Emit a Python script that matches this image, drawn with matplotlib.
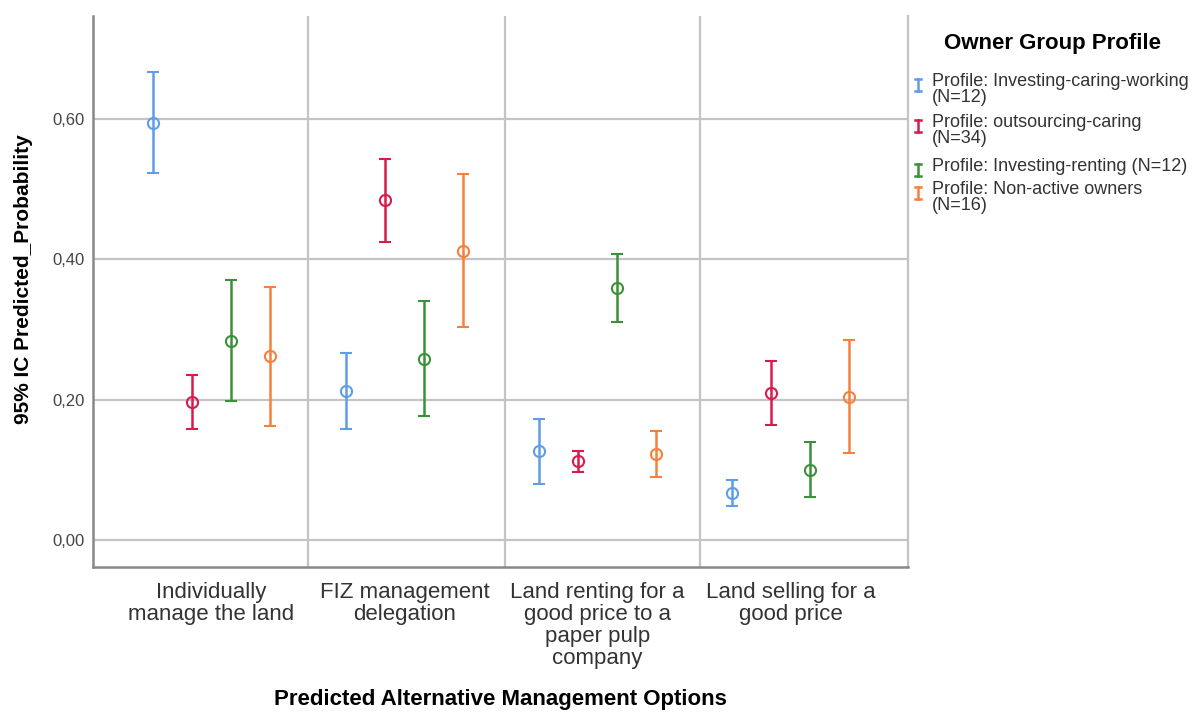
import numpy as np
import matplotlib
matplotlib.use("Agg")
import matplotlib.pyplot as plt
from matplotlib.lines import Line2D

plt.rcParams['font.family'] = ['Liberation Sans', 'DejaVu Sans']

# ==============================
# DATA
# ==============================
categories = ["Individually\nmanage the land",
              "FIZ management\ndelegation",
              "Land renting for a\ngood price to a\npaper pulp\ncompany",
              "Land selling for a\ngood price"]

profiles = ["Profile: Investing-caring-working\n(N=12)",
            "Profile: outsourcing-caring\n(N=34)",
            "Profile: Investing-renting (N=12)",
            "Profile: Non-active owners\n(N=16)"]

colors = ["#5f9de9", "#d81b4a", "#3a913a", "#f7813c"]

# mean, lower CI, upper CI per profile (one value per category)
mean_icw = [0.595, 0.212, 0.127, 0.067]
low_icw  = [0.523, 0.158, 0.080, 0.049]
high_icw = [0.667, 0.267, 0.173, 0.085]

mean_oc = [0.196, 0.484, 0.112, 0.209]
low_oc  = [0.158, 0.424, 0.097, 0.164]
high_oc = [0.235, 0.543, 0.127, 0.255]

mean_ir = [0.284, 0.258, 0.359, 0.100]
low_ir  = [0.198, 0.177, 0.310, 0.061]
high_ir = [0.371, 0.341, 0.407, 0.140]

mean_na = [0.262, 0.412, 0.123, 0.204]
low_na  = [0.163, 0.303, 0.090, 0.124]
high_na = [0.361, 0.522, 0.155, 0.285]

means = [mean_icw, mean_oc, mean_ir, mean_na]
lows = [low_icw, low_oc, low_ir, low_na]
highs = [high_icw, high_oc, high_ir, high_na]

yticks = [0.0, 0.2, 0.4, 0.6]
ytick_labels = ["0,00", "0,20", "0,40", "0,60"]

# ==============================
# FIGURE
# ==============================
W, H = 1199, 718
fig = plt.figure(figsize=(W / 100, H / 100), dpi=100)
ax = fig.add_axes([93 / W, 1 - 567 / H, 815 / W, 551 / H])

grid_color = "#c4c4c4"
for yv in yticks:
    ax.axhline(yv, color=grid_color, lw=1.6, zorder=0)
# separators between the option groups
for xv in [0.5, 1.52, 2.53]:
    ax.axvline(xv, color=grid_color, lw=1.6, zorder=0)

x = np.arange(len(categories))
offset = 0.202
for k in range(4):
    m = np.array(means[k])
    lo = np.array(lows[k])
    hi = np.array(highs[k])
    ax.errorbar(x + (k - 1.5) * offset, m, yerr=[m - lo, hi - m],
                fmt='o', mfc='none', mec=colors[k], color=colors[k],
                ms=8, mew=1.5, elinewidth=1.8, capsize=4, capthick=1.8,
                zorder=3)

ax.set_xlim(-0.614, 3.609)
ax.set_ylim(-0.0385, 0.7468)

ax.set_yticks(yticks)
ax.set_yticklabels(ytick_labels)
ax.set_xticks(x)
ax.set_xticklabels(categories, fontsize=16, color="#333333", linespacing=1.05)
ax.tick_params(axis='y', length=0, pad=6, labelsize=12, labelcolor="#444444")
ax.tick_params(axis='x', length=0, pad=11)

ax.spines['top'].set_visible(False)
ax.spines['right'].set_color(grid_color)
ax.spines['right'].set_linewidth(1.6)
for s in ['left', 'bottom']:
    ax.spines[s].set_color("#888888")
    ax.spines[s].set_linewidth(1.8)

ax.set_ylabel("95% IC Predicted_Probability", fontsize=15, fontweight='bold')
ax.yaxis.set_label_coords(-0.0736, 0.5227)
ax.set_xlabel("Predicted Alternative Management Options", fontsize=16,
              fontweight='bold', va='top')
ax.xaxis.set_label_coords(0.5, -0.2214)

# ==============================
# LEGEND (drawn by hand, SPSS style)
# ==============================
fig.text(1052 / W, 1 - 43 / H, "Owner Group Profile", fontsize=16,
         fontweight='bold', ha='center', va='center')

first_line_y = [82, 123, 167, 190]
for k in range(4):
    yc = first_line_y[k]
    fig.text(932 / W, 1 - (yc - 9) / H, profiles[k], fontsize=13,
             color="#333333", ha='left', va='top', linespacing=0.95)
    hx = 918 / W
    y0 = 1 - (yc + 9) / H
    y1 = 1 - (yc - 3) / H
    cw = 3 / W
    fig.add_artist(Line2D([hx, hx], [y0, y1], color=colors[k], lw=1.8))
    fig.add_artist(Line2D([hx - cw, hx + cw], [y0, y0], color=colors[k], lw=1.8))
    fig.add_artist(Line2D([hx - cw, hx + cw], [y1, y1], color=colors[k], lw=1.8))

plt.savefig("out.png", dpi=100)
